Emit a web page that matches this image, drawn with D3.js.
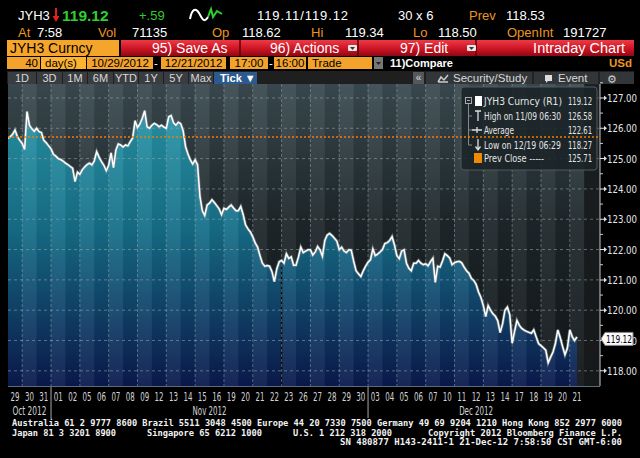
<!DOCTYPE html>
<html>
<head>
<meta charset="utf-8">
<script src="https://cdn.jsdelivr.net/npm/d3@7"></script>
<style>
  body { margin: 0; background: #000; }
  svg { display: block; }
  text { font-family: "Liberation Sans", Arial, sans-serif; }
  .narrow { font-family: "Liberation Sans Narrow", "DejaVu Sans Condensed", "Roboto Condensed", sans-serif; font-stretch: condensed; }
  .mono { font-family: "DejaVu Sans Mono", "Liberation Mono", monospace; }
</style>
</head>
<body>
<script>
// ---- data ----
var dayLabels = ["29","30","31",
  "01","02","05","06","07","08","09","12","13","14","15","16","19","20","21","22","23","26","27","28","29","30",
  "03","04","05","06","07","10","11","12","13","14","17","18","19","20","21"];
var monthLabels = ["Oct 2012", "Nov 2012", "Dec 2012"];
var monthStart = [0, 3, 25];
var monthEnd = [3, 25, 40];

// intraday prices, 6 samples per session (last session still open)
var octTicks = [
  [125.67, 125.72, 125.80, 125.94, 125.72, 125.60],
  [125.50, 125.30, 126.55, 126.10, 125.98, 125.90],
  [126.00, 125.89, 125.86, 125.60, 125.52, 125.42]
];
var novTicks = [
  [125.32, 125.14, 125.08, 125.00, 124.97, 124.92],
  [124.85, 124.80, 124.74, 124.68, 124.24, 124.55],
  [124.48, 124.63, 124.72, 124.80, 124.85, 124.79],
  [124.92, 125.23, 125.05, 124.90, 124.78, 124.60],
  [124.78, 125.19, 124.70, 125.28, 125.48, 125.45],
  [125.38, 125.45, 125.42, 125.56, 125.68, 126.25],
  [126.02, 126.14, 126.33, 126.58, 126.05, 126.00],
  [126.10, 126.16, 126.12, 126.05, 126.10, 126.04],
  [126.00, 126.38, 126.42, 126.18, 126.10, 126.20],
  [126.15, 125.92, 125.40, 125.15, 124.96, 124.82],
  [124.96, 124.80, 123.75, 123.28, 123.12, 123.47],
  [123.53, 123.64, 123.55, 123.45, 123.34, 123.15],
  [123.36, 123.32, 123.40, 123.47, 123.37, 123.28],
  [123.28, 123.42, 123.15, 122.81, 122.68, 122.58],
  [122.42, 122.22, 122.08, 121.80, 121.55, 121.45],
  [121.47, 121.45, 121.27, 120.94, 121.36, 121.60],
  [121.64, 121.55, 121.86, 121.71, 121.76, 121.48],
  [121.48, 121.75, 122.08, 121.90, 121.95, 121.99],
  [121.99, 121.82, 121.92, 122.10, 121.99, 121.78],
  [122.30, 122.48, 122.53, 122.46, 122.37, 122.28],
  [122.00, 122.08, 121.95, 121.90, 121.99, 121.98],
  [121.62, 121.30, 121.20, 121.11, 121.30, 121.45]
];
var decTicks = [
  [121.58, 121.66, 122.02, 121.80, 121.85, 121.92],
  [122.00, 122.20, 122.23, 122.30, 122.43, 122.15],
  [121.80, 121.70, 121.95, 121.99, 121.55, 121.38],
  [121.30, 121.55, 121.55, 121.64, 121.55, 121.50],
  [121.53, 121.46, 121.60, 121.71, 120.92, 121.45],
  [121.42, 121.62, 121.86, 121.80, 121.72, 121.50],
  [121.57, 121.60, 121.61, 121.56, 121.42, 121.30],
  [121.22, 121.05, 120.98, 120.85, 120.60, 120.42],
  [120.15, 119.79, 120.15, 120.00, 119.88, 119.80],
  [119.65, 119.26, 119.55, 120.00, 120.10, 119.85],
  [118.91, 119.30, 119.66, 119.50, 119.40, 119.34],
  [119.30, 119.27, 119.24, 119.35, 119.12, 118.90],
  [118.83, 118.76, 118.68, 118.27, 118.45, 118.62],
  [118.90, 119.35, 119.10, 118.80, 118.53, 118.75],
  [119.35, 119.13, 119.00, 119.12]
];
var samplesPerDay = 6;
var lastPrice = 119.12;
var prevClose = 125.71;
var yTicks = [118, 119, 120, 121, 122, 123, 124, 125, 126, 127];
var legendLabels = ["JYH3 Curncy (R1)", "High on 11/09 06:30", "Average", "Low on 12/19 06:29", "Prev Close -----"];
var legendValues = ["119.12", "126.58", "122.61", "118.27", "125.71"];

// ---- layout ----
var plot = { left: 8, right: 600, top: 84, bottom: 386 };
var dataRight = 584.2;

var svg = d3.select("body").append("svg")
  .attr("width", 640)
  .attr("height", 458);
svg.append("rect").attr("width", 640).attr("height", 458).attr("fill", "#000");
var defs = svg.append("defs");

// flatten ticks into (t, price) with t in trading days
var allDays = octTicks.concat(novTicks, decTicks);
var ticks = [];
allDays.forEach(function(day, i) {
  day.forEach(function(p, k) {
    ticks.push({ t: i + k / samplesPerDay, p: p });
  });
});

var x = d3.scaleLinear().domain([0, dayLabels.length]).range([7.8, dataRight]);
var y = d3.scaleLinear().domain([117.5, 127.46]).range([plot.bottom, plot.top]);

// ---- header ----
var orange = "#ee9422";
function label(xp, yp, s, fill, size) {
  return svg.append("text").attr("x", xp).attr("y", yp)
    .attr("fill", fill).attr("font-size", size).text(s);
}

label(18, 20, "JYH3", "#fff", 13);
svg.append("line").attr("x1", 56).attr("x2", 56).attr("y1", 8).attr("y2", 19)
  .attr("stroke", "#e02020").attr("stroke-width", 2);
svg.append("path").attr("d", "M52.5,16 L59.5,16 L56,22 Z").attr("fill", "#e02020");
label(62, 21, "119.12", "#2fce2f", 15.5).attr("font-weight", "bold");
label(139, 20, "+.59", "#2fce2f", 13);
svg.append("path").attr("d", "M190,19 C192,8 196,8 199,13 S204,24 208,17")
  .attr("fill", "none").attr("stroke", "#fff").attr("stroke-width", 2);
svg.append("path").attr("d", "M208,17 L211,9 L213,17 L217,11 L222,14")
  .attr("fill", "none").attr("stroke", "#2fce2f").attr("stroke-width", 2);
label(257, 20, "119.11/119.12", "#fff", 13).attr("textLength", 91);
label(398, 20, "30 x 6", "#fff", 13);
label(469, 20, "Prev", orange, 13);
label(506, 20, "118.53", "#fff", 13);

label(18, 37, "At", orange, 13);
label(37, 37, "7:58", "#fff", 13);
label(98, 37, "Vol", orange, 13);
label(132, 37, "71135", "#fff", 13);
label(212, 37, "Op", orange, 13);
label(242, 37, "118.62", "#fff", 13);
label(311, 37, "Hi", orange, 13);
label(345, 37, "119.34", "#fff", 13);
label(413, 37, "Lo", orange, 13);
label(438, 37, "118.50", "#fff", 13);
label(507, 37, "OpenInt", orange, 13);
label(563, 37, "191727", "#fff", 13);

// red command bar
var redGrad = defs.append("linearGradient").attr("id", "redGrad")
  .attr("x1", 0).attr("x2", 0).attr("y1", 0).attr("y2", 1);
redGrad.append("stop").attr("offset", "0%").attr("stop-color", "#ee3a46");
redGrad.append("stop").attr("offset", "55%").attr("stop-color", "#cc1424");
redGrad.append("stop").attr("offset", "100%").attr("stop-color", "#8e0814");

svg.append("rect").attr("x", 7).attr("y", 40).attr("width", 112).attr("height", 16).attr("fill", "#f5a62a");
label(10, 53, "JYH3 Curncy", "#000", 14);
svg.append("rect").attr("x", 121).attr("y", 40).attr("width", 513).attr("height", 16).attr("fill", "url(#redGrad)");
[240, 358, 476].forEach(function(sx) {
  svg.append("line").attr("x1", sx).attr("x2", sx).attr("y1", 40).attr("y2", 56)
    .attr("stroke", "#5a0008").attr("stroke-width", 1.5);
});
label(152, 53, "95) Save As", "#fff", 14);
label(270, 53, "96) Actions", "#fff", 14);
label(400, 53, "97) Edit", "#fff", 14);
label(625, 53, "Intraday Chart", "#fff", 14.5).attr("text-anchor", "end");
[352, 471].forEach(function(ax) {
  svg.append("rect").attr("x", ax - 4).attr("y", 45).attr("width", 9).attr("height", 6)
    .attr("rx", 1).attr("fill", "#e8e8e8");
  svg.append("path").attr("d", "M" + (ax - 2) + ",47 L" + (ax + 3) + ",47 L" + (ax + 0.5) + ",50 Z")
    .attr("fill", "#333");
});

// orange date row
var amber = "#f3a32c";
[[7, 40], [41, 86], [87, 153], [161, 226], [230, 268], [274, 306], [308, 372]].forEach(function(b) {
  svg.append("rect").attr("x", b[0]).attr("y", 57).attr("width", b[1] - b[0]).attr("height", 12).attr("fill", amber);
});
svg.append("rect").attr("x", 41).attr("y", 57).attr("width", 45).attr("height", 12).attr("fill", "#ffb22e");
label(38, 67, "40", "#000", 11.5).attr("text-anchor", "end");
label(45, 67, "day(s)", "#000", 11.5);
label(120, 67, "10/29/2012", "#000", 11.5).attr("text-anchor", "middle");
label(156, 67, "-", "#fff", 11.5).attr("text-anchor", "middle");
label(193.5, 67, "12/21/2012", "#000", 11.5).attr("text-anchor", "middle");
label(249, 67, "17:00", "#000", 11.5).attr("text-anchor", "middle");
label(271, 67, "-", "#fff", 11.5).attr("text-anchor", "middle");
label(290, 67, "16:00", "#000", 11.5).attr("text-anchor", "middle");
label(312, 67, "Trade", "#000", 11.5);
svg.append("rect").attr("x", 374).attr("y", 57).attr("width", 9).attr("height", 12).attr("fill", "#777");
svg.append("path").attr("d", "M376,62 L381,62 L378.5,65 Z").attr("fill", "#222");
label(390, 67, "11)Compare", "#fff", 11).attr("font-weight", "bold");
label(632, 67, "USd", orange, 11.5).attr("font-weight", "bold").attr("text-anchor", "end");

// range tabs
svg.append("rect").attr("x", 7).attr("y", 71).attr("width", 627).attr("height", 13).attr("fill", "#1f1f1f");
var tabs = [[8, 36, "1D"], [37, 62, "3D"], [63, 87, "1M"], [88, 113, "6M"], [114, 138, "YTD"],
  [139, 163, "1Y"], [164, 188, "5Y"], [189, 213, "Max"]];
tabs.forEach(function(tb) {
  svg.append("rect").attr("x", tb[0]).attr("y", 72).attr("width", tb[1] - tb[0]).attr("height", 12).attr("fill", "#3a3d40");
  label((tb[0] + tb[1]) / 2, 82, tb[2], "#d8d8d8", 11).attr("text-anchor", "middle");
});
svg.append("rect").attr("x", 214).attr("y", 72).attr("width", 43).attr("height", 12).attr("fill", "#2c5a8e");
label(220, 82, "Tick \u25BC", "#fff", 11).attr("font-weight", "bold");
svg.append("rect").attr("x", 413).attr("y", 72).attr("width", 11).attr("height", 12).attr("fill", "#55585b");
label(418.5, 81, "\u00AB", "#ddd", 10).attr("text-anchor", "middle");
svg.append("rect").attr("x", 426).attr("y", 72).attr("width", 208).attr("height", 12).attr("fill", "#333638");
[533, 599].forEach(function(sx) {
  svg.append("line").attr("x1", sx).attr("x2", sx).attr("y1", 72).attr("y2", 84).attr("stroke", "#111");
});
svg.append("path").attr("d", "M438,82 L441,77 L444,80 L448,75 M438,82 L448,82")
  .attr("fill", "none").attr("stroke", "#ccc").attr("stroke-width", 1.5);
label(453, 82, "Security/Study", "#d8d8d8", 11.5);
svg.append("path").attr("d", "M545,75 L552,75 L552,81 L548,81 L546,83 L546,81 L545,81 Z").attr("fill", "#ddd");
label(558, 82, "Event", "#d8d8d8", 11.5);
label(612, 82.5, "\u2699", "#ccc", 11).attr("font-family", "DejaVu Sans").attr("text-anchor", "middle");

// ---- plot area ----
defs.append("clipPath").attr("id", "plotClip").append("rect")
  .attr("x", plot.left).attr("y", plot.top)
  .attr("width", plot.right - plot.left).attr("height", plot.bottom - plot.top);

var bgGrad = defs.append("linearGradient").attr("id", "bgGrad")
  .attr("gradientUnits", "userSpaceOnUse")
  .attr("x1", 0).attr("x2", 0).attr("y1", plot.top).attr("y2", plot.bottom);
bgGrad.append("stop").attr("offset", "0%").attr("stop-color", "#3c4c52");
bgGrad.append("stop").attr("offset", "45%").attr("stop-color", "#1f282b");
bgGrad.append("stop").attr("offset", "100%").attr("stop-color", "#111518");

var areaGrad = defs.append("linearGradient").attr("id", "areaGrad")
  .attr("gradientUnits", "userSpaceOnUse")
  .attr("x1", 0).attr("x2", 0).attr("y1", 100).attr("y2", plot.bottom);
areaGrad.append("stop").attr("offset", "0%").attr("stop-color", "#2a9aaa");
areaGrad.append("stop").attr("offset", "45%").attr("stop-color", "#17708a");
areaGrad.append("stop").attr("offset", "100%").attr("stop-color", "#0b1a4e");

var chartGroup = svg.append("g").attr("clip-path", "url(#plotClip)");

chartGroup.append("rect")
  .attr("x", plot.left).attr("y", plot.top)
  .attr("width", plot.right - plot.left).attr("height", plot.bottom - plot.top)
  .attr("fill", "url(#bgGrad)");

// empty space after the last tick
chartGroup.append("rect")
  .attr("x", dataRight).attr("y", plot.top)
  .attr("width", plot.right - dataRight).attr("height", plot.bottom - plot.top)
  .attr("fill", "#181a1b").attr("opacity", 0.85);

var area = d3.area()
  .x(d => x(d.t))
  .y0(plot.bottom)
  .y1(d => y(d.p));

chartGroup.append("path")
  .datum(ticks)
  .attr("d", area)
  .attr("fill", "url(#areaGrad)");

// alternate session shading
chartGroup.selectAll("rect.col")
  .data(dayLabels)
  .enter()
  .append("rect")
  .attr("class", "col")
  .attr("x", (d, i) => x(i))
  .attr("y", plot.top)
  .attr("width", x(1) - x(0))
  .attr("height", plot.bottom - plot.top)
  .attr("fill", (d, i) => i % 2 ? "#ffffff" : "#000000")
  .attr("opacity", (d, i) => i % 2 ? 0.055 : 0.06);

// dark marker at Nov 23 (holiday session)
var holiday = 19;
chartGroup.append("line")
  .attr("x1", x(holiday)).attr("x2", x(holiday))
  .attr("y1", y(ticks[holiday * samplesPerDay].p) + 3).attr("y2", plot.bottom)
  .attr("stroke", "#05080c").attr("stroke-width", 1.4);

// grid
chartGroup.selectAll("line.hgrid")
  .data(yTicks)
  .enter()
  .append("line")
  .attr("class", "hgrid")
  .attr("x1", plot.left).attr("x2", plot.right)
  .attr("y1", d => y(d)).attr("y2", d => y(d))
  .attr("stroke", "#9aa8ad").attr("stroke-opacity", 0.55)
  .attr("stroke-dasharray", "3,3");

chartGroup.selectAll("line.vgrid")
  .data(d3.range(1, dayLabels.length, 2))
  .enter()
  .append("line")
  .attr("class", "vgrid")
  .attr("x1", d => x(d)).attr("x2", d => x(d))
  .attr("y1", plot.top).attr("y2", plot.bottom)
  .attr("stroke", "#9aa8ad").attr("stroke-opacity", 0.5)
  .attr("stroke-dasharray", "3,2");

// price line
var line = d3.line()
  .x(d => x(d.t))
  .y(d => y(d.p));

chartGroup.append("path")
  .datum(ticks)
  .attr("d", line)
  .attr("fill", "none")
  .attr("stroke", "#8a9aa0")
  .attr("stroke-opacity", 0.6)
  .attr("stroke-width", 3);

chartGroup.append("path")
  .datum(ticks)
  .attr("d", line)
  .attr("fill", "none")
  .attr("stroke", "#ffffff")
  .attr("stroke-width", 1.5)
  .attr("stroke-linejoin", "miter");

// legend
var lg = svg.append("g");
lg.append("rect")
  .attr("x", 461).attr("y", 87).attr("width", 136).attr("height", 83).attr("rx", 3)
  .attr("fill", "#1a2327").attr("fill-opacity", 0.88)
  .attr("stroke", "#505a5e");

var rowY = [101, 116, 130, 145, 158];
var legendLen = [78, 77, 30, 77, 60];
lg.append("rect").attr("x", 465.5).attr("y", 97.5).attr("width", 6).attr("height", 6)
  .attr("fill", "none").attr("stroke", "#aaa");
lg.append("line").attr("x1", 467).attr("x2", 470).attr("y1", 100.5).attr("y2", 100.5).attr("stroke", "#aaa");
lg.append("line").attr("x1", 468.5).attr("x2", 468.5).attr("y1", 104).attr("y2", 145)
  .attr("stroke", "#888");
rowY.slice(1, 4).forEach(function(ry) {
  lg.append("line").attr("x1", 468.5).attr("x2", 472).attr("y1", ry).attr("y2", ry).attr("stroke", "#888");
});
lg.append("rect").attr("x", 475).attr("y", 96).attr("width", 7).attr("height", 10).attr("fill", "#fff");
lg.append("path").attr("d", "M475,111 L481,111 M478,111 L478,121")
  .attr("stroke", "#ddd").attr("stroke-width", 1.3);
lg.append("path").attr("d", "M472,130 L482,130 M477,127 L477,133")
  .attr("stroke", "#ddd").attr("stroke-width", 1.3);
lg.append("path").attr("d", "M478,139 L478,149 M475.5,146.5 L478,150 L480.5,146.5")
  .attr("fill", "none").attr("stroke", "#ddd").attr("stroke-width", 1.3);
lg.append("rect").attr("x", 474).attr("y", 153).attr("width", 8).attr("height", 10).attr("fill", "#f28a00");

lg.selectAll("text.lgl")
  .data(legendLabels)
  .enter()
  .append("text")
  .attr("class", "lgl narrow")
  .attr("x", 484)
  .attr("y", (d, i) => rowY[i] + 4)
  .attr("fill", "#e4e4e4")
  .attr("font-size", 10.5)
  .attr("textLength", (d, i) => legendLen[i])
  .attr("lengthAdjust", "spacingAndGlyphs")
  .text(d => d);

lg.selectAll("text.lgv")
  .data(legendValues)
  .enter()
  .append("text")
  .attr("class", "lgv narrow")
  .attr("x", 592)
  .attr("y", (d, i) => rowY[i] + 4)
  .attr("text-anchor", "end")
  .attr("fill", "#e4e4e4")
  .attr("font-size", 10.5)
  .attr("textLength", 24)
  .attr("lengthAdjust", "spacingAndGlyphs")
  .text(d => d);

// previous close line
svg.append("line")
  .attr("x1", plot.left).attr("x2", plot.right)
  .attr("y1", y(prevClose)).attr("y2", y(prevClose))
  .attr("stroke", "#f07c00")
  .attr("stroke-width", 1.6)
  .attr("stroke-dasharray", "2,2");

// ---- y axis ----
svg.append("line")
  .attr("x1", plot.right).attr("x2", plot.right)
  .attr("y1", plot.top).attr("y2", plot.bottom)
  .attr("stroke", "#c8c8c8");

var yAxis = svg.append("g");
yAxis.selectAll("line.minor")
  .data(yTicks.map(d => d + 0.5))
  .enter()
  .append("line")
  .attr("class", "minor")
  .attr("x1", plot.right).attr("x2", plot.right + 3)
  .attr("y1", d => y(d)).attr("y2", d => y(d))
  .attr("stroke", "#c8c8c8");

yAxis.selectAll("path.major")
  .data(yTicks)
  .enter()
  .append("path")
  .attr("class", "major")
  .attr("d", d => {
    var yy = y(d);
    return "M" + plot.right + "," + (yy - 0.5) + " h4 v-2 l3,2.5 l-3,2.5 v-2 h-4 Z";
  })
  .attr("fill", "#e0e0e0");

yAxis.selectAll("text")
  .data(yTicks)
  .enter()
  .append("text")
  .attr("class", "narrow")
  .attr("x", 607)
  .attr("y", d => y(d) + 4)
  .attr("fill", "#e6e6e6")
  .attr("font-size", 10.5)
  .attr("textLength", 30)
  .attr("lengthAdjust", "spacingAndGlyphs")
  .text(d => d.toFixed(2));

// last price flag
var ly = y(lastPrice) + 2;
svg.append("path")
  .attr("d", "M601," + ly + " L605," + (ly - 6.5) + " L633," + (ly - 6.5) + " L633," + (ly + 6.5) + " L605," + (ly + 6.5) + " Z")
  .attr("fill", "#fafafa").attr("stroke", "#888");
svg.append("text")
  .attr("class", "narrow")
  .attr("x", 606).attr("y", ly + 4)
  .attr("fill", "#000").attr("font-size", 10.5)
  .attr("textLength", 26).attr("lengthAdjust", "spacingAndGlyphs")
  .text(lastPrice.toFixed(2));

// ---- x axis ----
svg.append("line")
  .attr("x1", plot.left).attr("x2", plot.right)
  .attr("y1", plot.bottom + 0.5).attr("y2", plot.bottom + 0.5)
  .attr("stroke", "#5a6a78");

svg.selectAll("text.day")
  .data(dayLabels)
  .enter()
  .append("text")
  .attr("class", "day narrow")
  .attr("x", (d, i) => x(i + 0.5))
  .attr("y", 401)
  .attr("text-anchor", "middle")
  .attr("fill", "#d4d4d4")
  .attr("font-size", 12.5)
  .attr("textLength", 9)
  .attr("lengthAdjust", "spacingAndGlyphs")
  .text(d => d);

svg.selectAll("line.msep")
  .data(monthStart.slice(1))
  .enter()
  .append("line")
  .attr("class", "msep")
  .attr("x1", d => x(d)).attr("x2", d => x(d))
  .attr("y1", plot.bottom + 1).attr("y2", 418)
  .attr("stroke", "#a8a8a8");

svg.selectAll("text.month")
  .data(monthLabels)
  .enter()
  .append("text")
  .attr("class", "month narrow")
  .attr("x", (d, i) => x((monthStart[i] + monthEnd[i]) / 2))
  .attr("y", 415)
  .attr("text-anchor", "middle")
  .attr("fill", "#d4d4d4")
  .attr("font-size", 12.5)
  .attr("textLength", 34)
  .attr("lengthAdjust", "spacingAndGlyphs")
  .text(d => d);

// ---- footer ----
function foot(xp, yp, s, len, anchor) {
  svg.append("text").attr("class", "mono")
    .attr("x", xp).attr("y", yp)
    .attr("fill", "#f2f2f2").attr("font-size", 8.6)
    .attr("font-weight", "bold")
    .attr("text-anchor", anchor || "start")
    .attr("textLength", len).attr("lengthAdjust", "spacingAndGlyphs")
    .text(s);
}
foot(12, 426, "Australia 61 2 9777 8600 Brazil 5511 3048 4500 Europe 44 20 7330 7500 Germany 49 69 9204 1210 Hong Kong 852 2977 6000", 610);
foot(12, 436, "Japan 81 3 3201 8900", 104);
foot(147, 436, "Singapore 65 6212 1000", 115);
foot(293, 436, "U.S. 1 212 318 2000", 99);
foot(428, 436, "Copyright 2012 Bloomberg Finance L.P.", 194);
foot(340, 445, "SN 480877 H143-2411-1 21-Dec-12  7:58:50 CST  GMT-6:00", 282);
</script>
</body>
</html>
